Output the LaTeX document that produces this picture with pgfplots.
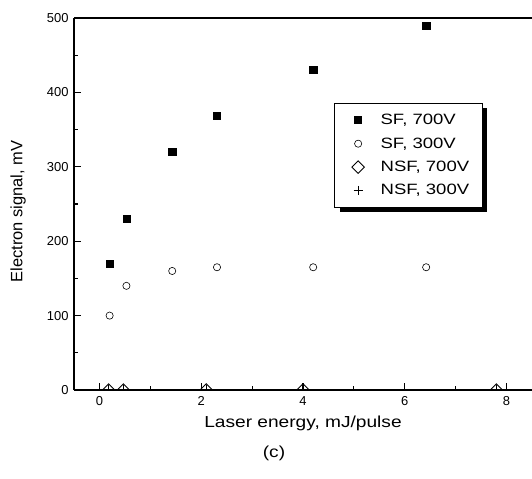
\documentclass[border=0pt]{standalone}
\usepackage{pgfplots}
\pgfplotsset{compat=1.18}
\usepackage{fontspec}
\setmainfont{Liberation Sans}
\newfontfamily\widefont{Liberation Sans}[FakeStretch=1.2]
\newfontfamily\legfont{Liberation Sans}[FakeStretch=1.24]
\usetikzlibrary{shadows,calc}
\begin{document}
\begin{tikzpicture}
\begin{axis}[
  name=ax,
  scale only axis,
  width=458bp, height=372bp,
  xmin=-0.5, xmax=8.5,
  ymin=0, ymax=500,
  axis y line*=left,
  axis x line*=box,
  axis line style={line width=1.4bp},
  xtick={0,2,4,6,8},
  minor xtick={1,3,5,7},
  ytick={0,100,200,300,400,500},
  minor ytick={50,150,250,350,450},
  tick align=inside,
  major tick length=7bp,
  minor tick length=4bp,
  tick style={line width=1.2bp, black},
  xtick pos=bottom, ytick pos=left,
  /pgf/number format/assume math mode=true,
  ticklabel style={font=\fontsize{13}{13}\selectfont},
  yticklabel style={xshift=-2bp},
  xticklabel style={yshift=-3bp},
  xlabel={\widefont Laser energy, mJ/pulse},
  xlabel style={font=\fontsize{16}{16}\selectfont, at={(axis description cs:0.5,0)}, anchor=center, yshift=-33bp},
  ylabel={Electron signal, mV},
  ylabel style={font=\fontsize{16.5}{16.5}\selectfont, at={(axis description cs:-0.122,0.48)}, anchor=center},
  clip mode=individual,
  clip marker paths=true,
  legend style={
    at={(axis description cs:0.568,0.772)}, anchor=north west,
    draw=black, line width=1bp, fill=white,
    font=\fontsize{15}{15}\selectfont\legfont,
    row sep=7.5bp, inner xsep=11bp, inner ysep=9bp,
    cells={anchor=west},
    drop shadow={shadow xshift=5bp, shadow yshift=-5bp, fill=black, opacity=1},
  },
  legend image code/.code={\path (0bp,0bp) (32bp,0bp); \draw[#1] plot coordinates {(12bp,0bp)};},
]
\addplot[only marks, mark=square*, mark size=3.6bp, mark options={fill=black, draw=black}] coordinates {
(0.2,170) (0.53,230) (1.43,320) (2.31,369) (4.2,430) (6.42,490)};
\addlegendentry{SF, 700V}
\addplot[only marks, mark=o, mark size=3.6bp, mark options={draw=black, line width=0.6bp}] coordinates {
(0.2,100) (0.53,140) (1.43,160) (2.31,165) (4.2,165) (6.42,165)};
\addlegendentry{SF, 300V}
\addplot[only marks, mark=square, mark size=4.4bp, mark options={rotate=45, draw=black, line width=0.9bp, fill=white}] coordinates {
(0.18,0) (0.47,0) (2.1,0) (4.0,0) (7.8,0)};
\addlegendentry{NSF, 700V}
\addplot[only marks, mark=+, mark size=4.6bp, mark options={draw=black, line width=0.9bp}] coordinates {
(0.18,0) (0.47,0) (2.1,0) (4.0,0) (7.8,0)};
\addlegendentry{NSF, 300V}
\end{axis}
\node[font=\fontsize{16}{16}\selectfont\widefont] at ($(ax.south west)+(200bp,-63bp)$) {(c)};
\pgfresetboundingbox
\path[use as bounding box] ($(ax.south west)+(-74bp,-88bp)$) rectangle ($(ax.north east)+(0bp,18bp)$);
\end{tikzpicture}
\end{document}
